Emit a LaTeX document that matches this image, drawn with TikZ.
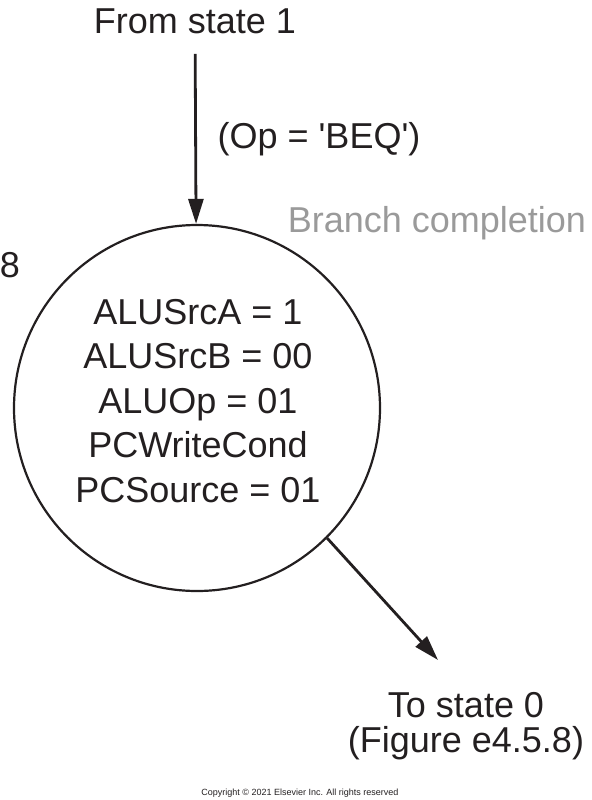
\documentclass[tikz,border=0pt]{standalone}
\usepackage{fontspec}
\setmainfont{Liberation Sans}
\usetikzlibrary{arrows.meta}
\definecolor{inkblack}{RGB}{35,31,32}
\definecolor{softgray}{RGB}{154,154,154}

\begin{document}
\begin{tikzpicture}[x=0.5pt, y=-0.5pt,
  state/.style={draw=inkblack, circle, line width=1.1pt, minimum size=183pt,
    inner sep=0pt},
  lbl/.style={font=\fontsize{18}{22.25}\selectfont, text=inkblack, inner sep=0pt,
    align=center},
  arr/.style={-{Triangle[length=12.5pt, width=7.5pt]}, line width=1.4pt,
    draw=inkblack},
]
  \useasboundingbox (0,0) rectangle (591,800);

  \node[state] (s8) at (197,408) {};
  % base anchor = baseline of the last line
  \node[lbl, anchor=base] (acts) at (198,502)
    {ALUSrcA = 1\\ALUSrcB = 00\\ALUOp = 01\\PCWriteCond\\PCSource = 01};
  \node[lbl, anchor=base] (num) at (10,277) {8};
  \node[lbl, anchor=base, text=softgray] (title) at (437,232) {Branch completion};

  \node[lbl, anchor=base] (fromst) at (195,33) {From state 1};
  \node[lbl, anchor=base] (cond) at (319,148)
    {(Op = \textquotesingle BEQ\textquotesingle)};
  \node[lbl, anchor=base, font=\fontsize{18}{17.5}\selectfont] (tost) at (466,752)
    {To state 0\\(Figure e4.5.8)};
  \coordinate (exit) at (438,660);

  \draw[arr, shorten <=10pt] (fromst) -- (s8);
  \draw[arr] (s8.-45) -- (exit);

  \node[font=\fontsize{4.5}{5}\selectfont, anchor=base, text=inkblack] (copy)
    at (300,795) {Copyright © 2021 Elsevier Inc. All rights reserved};
\end{tikzpicture}
\end{document}
